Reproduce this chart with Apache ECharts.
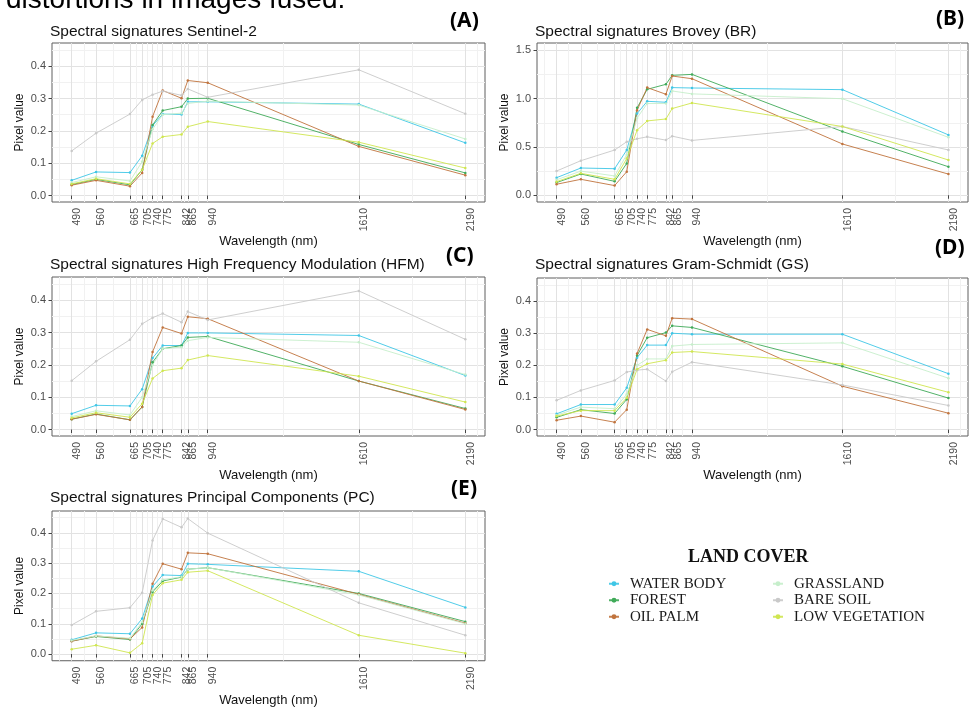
<!DOCTYPE html>
<html>
<head>
<meta charset="utf-8">
<title>Spectral signatures</title>
<script src="https://cdn.jsdelivr.net/npm/echarts@6.0.0/dist/echarts.min.js"></script>
<style>
html, body { margin: 0; padding: 0; background: #fff; }
#main { width: 973px; height: 708px; }
</style>
</head>
<body>
<div id="main"></div>
<script>
// bands (nm)
var wavelengths = [490, 560, 665, 705, 740, 775, 842, 865, 940, 1610, 2190];
var classNames = ['WATER BODY', 'FOREST', 'OIL PALM', 'GRASSLAND', 'BARE SOIL', 'LOW VEGETATION'];
var classColors = ['#3ec6e6', '#3faa58', '#c0733d', '#c6eecb', '#c9c9c9', '#cfe650'];

// one row per class, same order as classNames
var sentinel2 = [
	[0.047, 0.073, 0.071, 0.123, 0.216, 0.252, 0.251, 0.290, 0.290, 0.283, 0.163],
	[0.034, 0.050, 0.033, 0.080, 0.218, 0.263, 0.275, 0.300, 0.301, 0.158, 0.070],
	[0.032, 0.047, 0.029, 0.070, 0.244, 0.325, 0.301, 0.356, 0.349, 0.152, 0.063],
	[0.040, 0.058, 0.045, 0.105, 0.205, 0.250, 0.255, 0.285, 0.292, 0.280, 0.175],
	[0.138, 0.193, 0.252, 0.296, 0.312, 0.323, 0.310, 0.330, 0.304, 0.389, 0.253],
	[0.036, 0.052, 0.036, 0.080, 0.161, 0.182, 0.189, 0.213, 0.229, 0.165, 0.085]
];
var brovey = [
	[0.182, 0.282, 0.275, 0.468, 0.846, 0.973, 0.963, 1.115, 1.111, 1.094, 0.625],
	[0.131, 0.220, 0.144, 0.330, 0.905, 1.097, 1.149, 1.242, 1.252, 0.660, 0.295],
	[0.114, 0.165, 0.100, 0.244, 0.880, 1.115, 1.046, 1.235, 1.207, 0.531, 0.219],
	[0.160, 0.250, 0.200, 0.420, 0.800, 0.950, 0.950, 1.080, 1.050, 1.000, 0.600],
	[0.251, 0.358, 0.468, 0.554, 0.585, 0.605, 0.571, 0.612, 0.568, 0.712, 0.469],
	[0.141, 0.227, 0.165, 0.380, 0.674, 0.770, 0.790, 0.898, 0.956, 0.712, 0.365]
];
var hfm = [
	[0.049, 0.075, 0.073, 0.125, 0.221, 0.260, 0.260, 0.299, 0.299, 0.291, 0.167],
	[0.032, 0.048, 0.030, 0.070, 0.208, 0.250, 0.260, 0.285, 0.288, 0.150, 0.065],
	[0.032, 0.047, 0.030, 0.070, 0.240, 0.316, 0.297, 0.349, 0.343, 0.150, 0.062],
	[0.040, 0.058, 0.045, 0.100, 0.200, 0.250, 0.255, 0.275, 0.285, 0.270, 0.170],
	[0.151, 0.211, 0.278, 0.327, 0.346, 0.359, 0.332, 0.365, 0.339, 0.429, 0.279],
	[0.036, 0.052, 0.038, 0.080, 0.158, 0.182, 0.190, 0.215, 0.229, 0.165, 0.085]
];
var gramSchmidt = [
	[0.049, 0.078, 0.078, 0.130, 0.224, 0.263, 0.263, 0.300, 0.297, 0.297, 0.174],
	[0.038, 0.062, 0.050, 0.094, 0.231, 0.286, 0.302, 0.323, 0.318, 0.197, 0.098],
	[0.029, 0.042, 0.023, 0.062, 0.237, 0.312, 0.292, 0.347, 0.344, 0.135, 0.051],
	[0.045, 0.070, 0.065, 0.110, 0.200, 0.220, 0.220, 0.260, 0.265, 0.270, 0.160],
	[0.091, 0.122, 0.153, 0.179, 0.185, 0.188, 0.151, 0.180, 0.210, 0.139, 0.075],
	[0.042, 0.059, 0.059, 0.099, 0.188, 0.205, 0.216, 0.240, 0.243, 0.204, 0.116]
];
var principal = [
	[0.047, 0.070, 0.067, 0.117, 0.223, 0.261, 0.259, 0.298, 0.296, 0.273, 0.154],
	[0.043, 0.058, 0.048, 0.100, 0.205, 0.241, 0.254, 0.280, 0.285, 0.200, 0.107],
	[0.042, 0.060, 0.050, 0.088, 0.232, 0.298, 0.280, 0.334, 0.331, 0.197, 0.102],
	[0.045, 0.060, 0.052, 0.105, 0.210, 0.245, 0.255, 0.280, 0.285, 0.195, 0.100],
	[0.096, 0.141, 0.153, 0.202, 0.375, 0.446, 0.418, 0.447, 0.399, 0.169, 0.062],
	[0.016, 0.029, 0.004, 0.036, 0.195, 0.234, 0.245, 0.270, 0.275, 0.062, 0.003]
];

var smallTicks = [0, 0.1, 0.2, 0.3, 0.4];
var broveyTicks = [0, 0.5, 1.0, 1.5];

var SANS = '"Liberation Sans", Arial, sans-serif';
var SERIF = '"Liberation Serif", "Times New Roman", serif';

var panels = [
	{ title: 'Spectral signatures Sentinel-2', letter: '(A)', values: sentinel2, ticks: smallTicks, yMin: -0.02, yMax: 0.472,
	  grid: { left: 52, top: 43, width: 433, height: 159 }, tPos: [50, 24], lPos: [450, 11] },
	{ title: 'Spectral signatures Brovey (BR)', letter: '(B)', values: brovey, ticks: broveyTicks, yMin: -0.07, yMax: 1.577,
	  grid: { left: 537, top: 43, width: 431, height: 159 }, tPos: [535, 23.5], lPos: [936, 8.5] },
	{ title: 'Spectral signatures High Frequency Modulation (HFM)', letter: '(C)', values: hfm, ticks: smallTicks, yMin: -0.02, yMax: 0.472,
	  grid: { left: 52, top: 277, width: 433, height: 159 }, tPos: [50, 257], lPos: [446, 246] },
	{ title: 'Spectral signatures Gram-Schmidt (GS)', letter: '(D)', values: gramSchmidt, ticks: smallTicks, yMin: -0.02, yMax: 0.472,
	  grid: { left: 537, top: 278, width: 431, height: 158 }, tPos: [535, 257], lPos: [935, 237.5] },
	{ title: 'Spectral signatures Principal Components (PC)', letter: '(E)', values: principal, ticks: smallTicks, yMin: -0.022, yMax: 0.472,
	  grid: { left: 52, top: 511, width: 433, height: 159 }, tPos: [50, 490], lPos: [451, 478.5] }
];

// x axis is square-root scaled, like the ggplot original
var sq = wavelengths.map(Math.sqrt);
var last = sq.length - 1;
var span = sq[last] - sq[0];
var xMin = sq[0] - 0.05 * span;
var xMax = sq[last] + 0.05 * span;

function minorBreaks(major, lo, hi) {
	var step = major[1] - major[0];
	var b = [major[0] - step].concat(major, [major[major.length - 1] + step]);
	var out = [];
	for (var i = 1; i < b.length; i++) {
		var m = (b[i - 1] + b[i]) / 2;
		if (m > lo && m < hi) out.push(m);
	}
	return out;
}
var xMinor = minorBreaks(sq, xMin, xMax);

var majorLine = { show: true, lineStyle: { color: '#e2e2e2', width: 1 } };
var minorLine = { show: true, lineStyle: { color: '#f1f1f1', width: 1 } };

var titles = [], grids = [], xAxes = [], yAxes = [], series = [];

panels.forEach(function (p, i) {
	titles.push({ text: p.title, left: p.tPos[0], top: p.tPos[1], padding: 0,
		textStyle: { fontFamily: SANS, fontSize: 15.5, fontWeight: 'normal', color: '#111' } });
	titles.push({ text: p.letter, left: p.lPos[0], top: p.lPos[1], padding: 0,
		textStyle: { fontFamily: '"Noto Sans", sans-serif', fontSize: 21, fontWeight: 'bold', color: '#000' } });

	grids.push({ left: p.grid.left, top: p.grid.top, width: p.grid.width, height: p.grid.height,
		show: true, borderColor: '#5e5e5e', borderWidth: 1, backgroundColor: 'transparent' });

	xAxes.push({
		gridIndex: i, type: 'value', min: xMin, max: xMax, position: 'bottom',
		name: 'Wavelength (nm)', nameLocation: 'middle', nameGap: 30,
		nameTextStyle: { fontFamily: SANS, fontSize: 13, color: '#111' },
		axisLine: { show: false },
		axisTick: { show: true, length: 3.5, customValues: sq, lineStyle: { color: '#444' } },
		axisLabel: { customValues: sq, rotate: 90, margin: 6, verticalAlign: 'top',
			fontFamily: SANS, fontSize: 10.5, color: '#4d4d4d',
			formatter: function (v) { return String(Math.round(v * v)); } },
		splitLine: majorLine
	});
	xAxes.push({
		gridIndex: i, type: 'value', min: xMin, max: xMax, position: 'top',
		axisLine: { show: false },
		axisTick: { show: false, customValues: xMinor },
		axisLabel: { show: false },
		splitLine: minorLine
	});

	var yMinor = minorBreaks(p.ticks, p.yMin, p.yMax);
	yAxes.push({
		gridIndex: i, type: 'value', min: p.yMin, max: p.yMax, position: 'left',
		name: 'Pixel value', nameLocation: 'middle', nameGap: 26, nameRotate: 90,
		nameTextStyle: { fontFamily: SANS, fontSize: 12, color: '#111' },
		axisLine: { show: false },
		axisTick: { show: true, length: 3.5, customValues: p.ticks, lineStyle: { color: '#444' } },
		axisLabel: { customValues: p.ticks, margin: 6, fontFamily: SANS, fontSize: 11, color: '#4d4d4d',
			formatter: function (v) { return v.toFixed(1); } },
		splitLine: majorLine
	});
	yAxes.push({
		gridIndex: i, type: 'value', min: p.yMin, max: p.yMax, position: 'right',
		axisLine: { show: false },
		axisTick: { show: false, customValues: yMinor },
		axisLabel: { show: false },
		splitLine: minorLine
	});

	classNames.forEach(function (name, c) {
		series.push({
			type: 'line', name: name,
			xAxisIndex: 2 * i, yAxisIndex: 2 * i,
			data: wavelengths.map(function (w, k) { return [Math.sqrt(w), p.values[c][k]]; }),
			symbol: 'circle', symbolSize: 2.5, showSymbol: true,
			lineStyle: { width: 1, color: classColors[c], opacity: 0.9 },
			itemStyle: { color: classColors[c] },
			emphasis: { disabled: true },
			z: 3
		});
	});
});

titles.push({ text: 'LAND COVER', left: 688, top: 548, padding: 0,
	textStyle: { fontFamily: SERIF, fontSize: 18, fontWeight: 'bold', color: '#111' } });

function legendBlock(names, left) {
	return {
		data: names, orient: 'vertical', left: left, top: 575.5, padding: 0,
		itemWidth: 10, itemHeight: 6, itemGap: 0, selectedMode: false,
		lineStyle: { width: 2 },
		textStyle: { fontFamily: SERIF, fontSize: 15, color: '#1a1a1a', lineHeight: 16.5, padding: [0, 0, 0, 6] }
	};
}

var chart = echarts.init(document.getElementById('main'), null, { renderer: 'canvas' });
chart.setOption({
	animation: false,
	backgroundColor: '#fff',
	title: titles,
	legend: [legendBlock(classNames.slice(0, 3), 608), legendBlock(classNames.slice(3), 772)],
	grid: grids,
	xAxis: xAxes,
	yAxis: yAxes,
	series: series,
	graphic: [{
		type: 'text', x: 6, y: 0, silent: true,
		style: { text: 'distortions in images fused.', font: '28px "Liberation Sans", Arial, sans-serif',
			fill: '#000', verticalAlign: 'middle' }
	}]
});
</script>
</body>
</html>
